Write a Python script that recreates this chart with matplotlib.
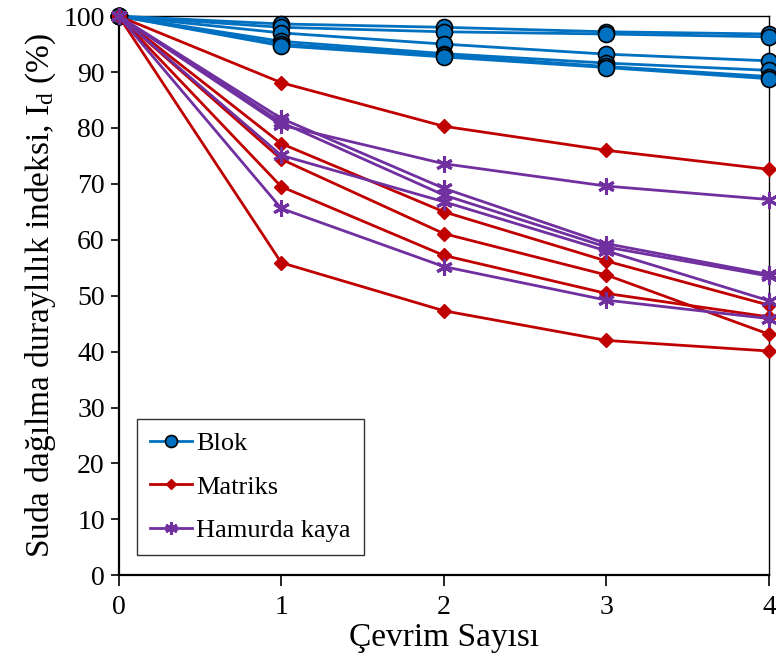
import matplotlib
matplotlib.use("Agg")
import matplotlib.pyplot as plt

plt.rcParams['font.family'] = ['Liberation Serif', 'DejaVu Serif']
plt.rcParams['mathtext.fontset'] = 'custom'
plt.rcParams['mathtext.rm'] = 'Liberation Serif'
plt.rcParams['mathtext.it'] = 'Liberation Serif'

cycles = [0, 1, 2, 3, 4]

# Blok samples
blok = [
    [100, 98.6, 98.0, 97.2, 96.8],
    [100, 98.0, 97.2, 96.8, 96.3],
    [100, 97.0, 95.0, 93.2, 92.0],
    [100, 95.5, 93.3, 91.6, 90.3],
    [100, 95.0, 93.0, 91.0, 89.2],
    [100, 94.7, 92.7, 90.8, 88.8],
]

# Matriks samples
matriks = [
    [100, 88.1, 80.3, 76.0, 72.6],
    [100, 77.2, 65.0, 56.2, 48.3],
    [100, 74.4, 61.1, 53.7, 43.1],
    [100, 69.5, 57.2, 50.4, 46.2],
    [100, 55.9, 47.3, 42.0, 40.1],
]

# Hamurda kaya samples
hamurda = [
    [100, 80.5, 73.6, 69.6, 67.2],
    [100, 81.7, 69.2, 59.3, 53.8],
    [100, 81.0, 68.0, 58.7, 53.5],
    [100, 75.1, 66.8, 58.0, 49.1],
    [100, 65.6, 55.2, 49.2, 45.9],
]

blue = '#0070C0'
red = '#C00000'
purple = '#7030A0'

fig = plt.figure(figsize=(7.76, 6.72), dpi=100)
ax = fig.add_axes([0.153, 0.144, 0.838, 0.832])

for i, vals in enumerate(blok):
    ax.plot(cycles, vals, color=blue, lw=2.0, marker='o', ms=11.5,
            mfc=blue, mec='black', mew=1.2, clip_on=False, zorder=3,
            label='Blok' if i == 0 else None)
for i, vals in enumerate(matriks):
    ax.plot(cycles, vals, color=red, lw=2.0, marker='D', ms=7,
            mfc=red, mec=red, clip_on=False, zorder=3,
            label='Matriks' if i == 0 else None)
for i, vals in enumerate(hamurda):
    ax.plot(cycles, vals, color=purple, lw=2.0, marker=(6, 2, 0), ms=12,
            mec=purple, mew=2.2, clip_on=False, zorder=3,
            label='Hamurda kaya' if i == 0 else None)

ax.set_xlim(0, 4)
ax.set_ylim(0, 100)
ax.set_xticks([0, 1, 2, 3, 4])
ax.set_yticks(range(0, 101, 10))
ax.tick_params(axis='both', direction='out', labelsize=20, colors='black')
ax.tick_params(axis='x', length=8, width=1.2, pad=6)
ax.tick_params(axis='y', length=6, width=1.2, pad=4)

ax.spines['left'].set_linewidth(1.6)
ax.spines['bottom'].set_linewidth(1.6)
ax.spines['top'].set_linewidth(1.0)
ax.spines['right'].set_linewidth(1.0)

ax.set_xlabel('Çevrim Sayısı', fontsize=24, labelpad=2)
ax.set_ylabel(r'Suda dağılma duraylılık indeksi, I$_{\mathrm{d}}$ (%)',
              fontsize=24, labelpad=4)

leg = ax.legend(loc='lower left', bbox_to_anchor=(0.028, 0.036),
                fontsize=19, frameon=True, fancybox=False,
                borderpad=0.5, borderaxespad=0, labelspacing=0.75,
                handlelength=1.6, handletextpad=0.15, markerscale=0.75)
leg.get_frame().set_edgecolor('black')
leg.get_frame().set_linewidth(1.0)

fig.savefig('out.png', dpi=100)
